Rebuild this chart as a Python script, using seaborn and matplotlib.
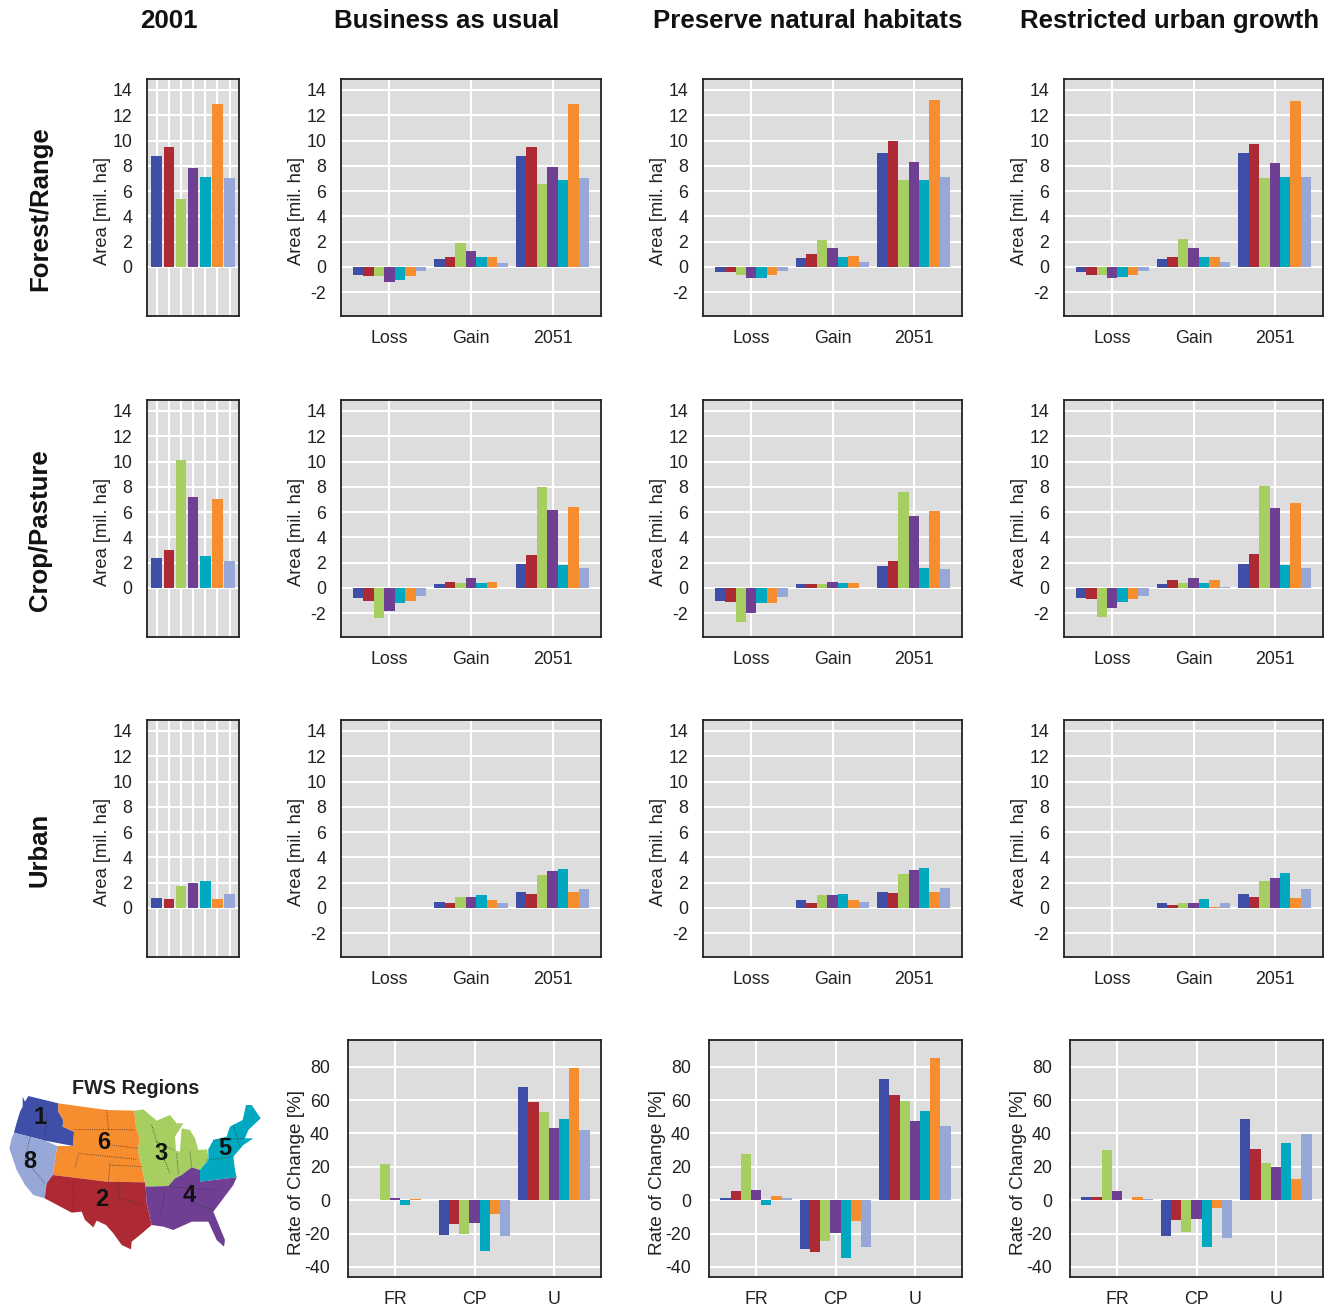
import pandas as pd
import matplotlib
matplotlib.use("Agg")
import matplotlib.pyplot as plt
import seaborn as sns
from matplotlib.patches import Polygon

# FWS regions, same order in every panel
regions = ["1", "2", "3", "4", "5", "6", "8"]
colors = ["#3F4FA8", "#AD2A34", "#A6CE60", "#6E3F92", "#00A9BF", "#F68D2E", "#97A8D8"]

area_groups = ["Loss", "Gain", "2051"]
rate_groups = ["FR", "CP", "U"]
scenarios = ["Business as usual", "Preserve natural habitats", "Restricted urban growth"]
row_names = ["Forest/Range", "Crop/Pasture", "Urban"]

# 2001 baseline [mil. ha]
forest_2001 = [8.8, 9.5, 5.4, 7.8, 7.1, 12.9, 7.0]
crop_2001 = [2.4, 3.0, 10.1, 7.2, 2.5, 7.0, 2.1]
urban_2001 = [0.8, 0.7, 1.7, 2.0, 2.1, 0.7, 1.1]

# forest / range: loss, gain, 2051
forest_bau = [[-0.6, -0.7, -0.7, -1.2, -1.0, -0.7, -0.3],
              [0.6, 0.8, 1.9, 1.3, 0.8, 0.8, 0.3],
              [8.8, 9.5, 6.6, 7.9, 6.9, 12.9, 7.0]]
forest_pnh = [[-0.4, -0.4, -0.6, -0.9, -0.9, -0.6, -0.3],
              [0.7, 1.0, 2.1, 1.5, 0.8, 0.9, 0.4],
              [9.0, 10.0, 6.9, 8.3, 6.9, 13.2, 7.1]]
forest_rug = [[-0.4, -0.6, -0.6, -0.9, -0.8, -0.6, -0.3],
              [0.6, 0.8, 2.2, 1.5, 0.8, 0.8, 0.4],
              [9.0, 9.7, 7.0, 8.2, 7.1, 13.1, 7.1]]

# crop / pasture
crop_bau = [[-0.8, -1.0, -2.4, -1.8, -1.2, -1.0, -0.6],
            [0.3, 0.5, 0.4, 0.8, 0.4, 0.5, 0.0],
            [1.9, 2.6, 8.0, 6.2, 1.8, 6.4, 1.6]]
crop_pnh = [[-1.0, -1.1, -2.7, -2.0, -1.2, -1.2, -0.7],
            [0.3, 0.3, 0.3, 0.5, 0.4, 0.4, 0.0],
            [1.7, 2.1, 7.6, 5.7, 1.6, 6.1, 1.5]]
crop_rug = [[-0.8, -0.9, -2.3, -1.6, -1.1, -0.9, -0.6],
            [0.3, 0.6, 0.4, 0.8, 0.4, 0.6, 0.05],
            [1.9, 2.7, 8.1, 6.3, 1.8, 6.7, 1.6]]

# urban (no loss)
urban_bau = [[0, 0, 0, 0, 0, 0, 0],
             [0.5, 0.4, 0.9, 0.9, 1.0, 0.6, 0.4],
             [1.3, 1.1, 2.6, 2.9, 3.1, 1.3, 1.5]]
urban_pnh = [[0, 0, 0, 0, 0, 0, 0],
             [0.6, 0.4, 1.0, 1.0, 1.1, 0.6, 0.5],
             [1.3, 1.2, 2.7, 3.0, 3.2, 1.3, 1.6]]
urban_rug = [[0, 0, 0, 0, 0, 0, 0],
             [0.4, 0.2, 0.4, 0.4, 0.7, 0.1, 0.4],
             [1.1, 0.9, 2.1, 2.4, 2.8, 0.8, 1.5]]

# rate of change [%]
rate_bau = [[0.3, 0.3, 22, 1.5, -3, 0.8, 0.2],
            [-21, -14, -20.5, -13.5, -30.5, -8.5, -21.5],
            [68, 59, 53, 43, 48.5, 79, 42]]
rate_pnh = [[1.5, 5.5, 27.5, 6.3, -3, 2.5, 1.3],
            [-29, -31, -24.5, -19.5, -34.5, -12.5, -28],
            [72.5, 63, 59.5, 47.5, 53.5, 85, 44.5]]
rate_rug = [[2, 2, 30, 5.5, 0.2, 2, 0.8],
            [-21.5, -12, -19, -11.5, -28, -4.5, -22.5],
            [48.5, 30.5, 22.5, 20, 34.5, 13, 39.5]]

area_ticks = list(range(-2, 15, 2))
rate_ticks = list(range(-40, 81, 20))

# map outlines, rough (3x pixels)
map_shapes = {
    "1": [(68, 80), (75, 95), (85, 78), (175, 100), (175, 125), (190, 150), (188, 170), (222, 185), (220, 228),
          (135, 212), (42, 188), (48, 165), (60, 125), (68, 110)],
    "6": [(175, 100), (320, 120), (403, 122), (408, 170), (418, 200), (415, 245), (425, 290), (435, 337),
          (320, 335), (158, 315), (172, 228), (220, 228), (222, 185), (188, 170), (190, 150), (175, 125)],
    "8": [(42, 188), (135, 212), (172, 228), (158, 315), (140, 340), (134, 385), (100, 375), (75, 345),
          (50, 300), (28, 235), (35, 205)],
    "2": [(158, 315), (320, 335), (435, 337), (437, 350), (440, 400), (455, 465), (420, 495), (395, 515),
          (393, 538), (365, 525), (340, 490), (318, 465), (290, 452), (280, 472), (255, 450), (245, 425),
          (215, 428), (134, 385), (140, 340)],
    "3": [(403, 122), (430, 118), (470, 152), (510, 135), (530, 160), (550, 160), (525, 200), (528, 242),
          (540, 245), (545, 175), (570, 180), (585, 205), (595, 240), (622, 238), (625, 270), (600, 300),
          (575, 292), (545, 315), (525, 325), (505, 348), (437, 350), (435, 337), (425, 290), (415, 245),
          (418, 200), (408, 170)],
    "5": [(625, 238), (640, 210), (680, 200), (690, 170), (728, 150), (738, 105), (755, 105), (782, 145),
          (745, 180), (735, 205), (760, 205), (730, 225), (700, 260), (705, 300), (710, 322), (600, 335),
          (600, 300), (625, 270)],
    "4": [(437, 350), (505, 348), (525, 325), (545, 315), (575, 292), (600, 300), (600, 335), (710, 322),
          (700, 345), (640, 425), (675, 510), (672, 530), (650, 510), (625, 455), (575, 455), (520, 480),
          (490, 470), (455, 465), (440, 400)],
}
map_labels = {"1": (120, 143), "6": (310, 218), "3": (483, 250), "5": (673, 235),
              "8": (88, 273), "2": (305, 388), "4": (568, 378)}
state_lines = [[(320, 120), (325, 178), (405, 180)], [(222, 178), (325, 178)], [(335, 225), (415, 235)],
               [(225, 290), (237, 250), (410, 268)], [(330, 280), (325, 335)], [(330, 285), (425, 290)],
               [(220, 335), (220, 425)], [(355, 335), (355, 385), (435, 405)], [(495, 360), (480, 445)],
               [(530, 250), (535, 315)], [(570, 245), (575, 292)], [(455, 165), (470, 215), (520, 240)],
               [(470, 215), (510, 310)], [(700, 165), (720, 230)], [(640, 210), (730, 205)],
               [(620, 270), (700, 260)], [(510, 350), (640, 360)], [(580, 400), (640, 420)],
               [(140, 130), (135, 212)], [(90, 200), (75, 270), (135, 340)]]

W, H = 1326, 1309
sns.set_theme(style="white", rc={"axes.facecolor": "#DDDDDD", "axes.edgecolor": "#222222", "axes.linewidth": 1.3,
                                 "grid.color": "white", "grid.linewidth": 1.5, "xtick.bottom": False,
                                 "ytick.left": False, "axes.unicode_minus": False})
plt.rcParams["font.family"] = ["Liberation Sans", "DejaVu Sans"]

fig = plt.figure(figsize=(W / 100, H / 100), dpi=100)


def make_axes(x0, y0, x1, y1):
    return fig.add_axes([x0 / W, 1 - y1 / H, (x1 - x0) / W, (y1 - y0) / H])


def style_axes(ax, yticks, ylim, ylabel, label_x, tick_pad, label_size=13.2):
    ax.set_ylim(*ylim)
    ax.set_yticks(yticks)
    ax.tick_params(axis="y", labelsize=12.8, pad=tick_pad, colors="#222222")
    ax.tick_params(axis="x", labelsize=12.8, pad=4, colors="#222222")
    ax.grid(True, axis="both")
    ax.set_axisbelow(True)
    ax.set_xlabel("")
    ax.set_ylabel(ylabel, fontsize=label_size, color="#222222")
    ax.yaxis.set_label_coords(label_x, 0.443)


def group_panel(ax, rows, groups, width=0.9):
    rec = []
    for g, vals in zip(groups, rows):
        for r, v in zip(regions, vals):
            rec.append({"group": g, "region": r, "value": v})
    df = pd.DataFrame(rec)
    sns.barplot(data=df, x="group", y="value", hue="region", order=groups, hue_order=regions,
                palette=colors, width=width, saturation=1, linewidth=0, legend=False, errorbar=None, ax=ax)
    ax.set_xlim(-0.593, 2.593)


# top three rows
tops = [79, 400, 720]
area_rows = [(forest_2001, [forest_bau, forest_pnh, forest_rug]),
             (crop_2001, [crop_bau, crop_pnh, crop_rug]),
             (urban_2001, [urban_bau, urban_pnh, urban_rug])]
scen_left = [341, 703, 1064]
scen_right = [601, 962, 1323]
area_lim = (-3.88, 14.87)

for i, (base, scen) in enumerate(area_rows):
    top = tops[i]
    ax = make_axes(147, top, 239, top + 237)
    df0 = pd.DataFrame({"region": regions, "value": base})
    sns.barplot(data=df0, x="region", y="value", hue="region", order=regions, hue_order=regions, palette=colors,
                width=0.88, dodge=False, saturation=1, linewidth=0, legend=False, errorbar=None, ax=ax)
    ax.set_xlim(-0.8, 6.78)
    style_axes(ax, area_ticks[1:], area_lim, "Area [mil. ha]", (111 - 147) / 92, 4.5)
    ax.set_xticklabels([])
    fig.text(40 / W, 1 - (top + 130) / H, row_names[i], rotation=90, fontsize=18.5, fontweight="bold",
             ha="center", va="center", color="#111111")

    for j, rows in enumerate(scen):
        x0, x1 = scen_left[j], scen_right[j]
        ax = make_axes(x0, top, x1, top + 237)
        group_panel(ax, rows, area_groups)
        style_axes(ax, area_ticks, area_lim, "Area [mil. ha]", (305 - 341) / 260, 4.5)

# rate of change row
rate_left = [348, 709, 1070]
for j, rows in enumerate([rate_bau, rate_pnh, rate_rug]):
    ax = make_axes(rate_left[j], 1040, scen_right[j], 1277)
    group_panel(ax, rows, rate_groups)
    style_axes(ax, rate_ticks, (-46, 96), "Rate of Change [%]", (305 - 348) / 253, 7, label_size=13.7)

# column titles
fig.text(169 / W, 1 - 21 / H, "2001", fontsize=18.6, fontweight="bold", ha="center", va="center", color="#111111")
for t, cx in zip(scenarios, [447, 808, 1170]):
    fig.text(cx / W, 1 - 21 / H, t, fontsize=18.6, fontweight="bold", ha="center", va="center", color="#111111")

# map inset
ax_map = make_axes(0, 1070, 280, 1260)
ax_map.set_xlim(0, 840)
ax_map.set_ylim(570, 0)
ax_map.axis("off")
for reg, pts in map_shapes.items():
    ax_map.add_patch(Polygon(pts, closed=True, facecolor=colors[regions.index(reg)], edgecolor="none"))
for pts in state_lines:
    xs, ys = zip(*pts)
    ax_map.plot(xs, ys, color="#333333", lw=0.6, ls=":")
for reg, (mx, my) in map_labels.items():
    ax_map.text(mx, my, reg, fontsize=17, fontweight="bold", ha="center", va="center", color="#111111")
ax_map.text(407, 55, "FWS Regions", fontsize=14.2, fontweight="bold", ha="center", va="center", color="#222222")

fig.savefig("out.png", dpi=100)
